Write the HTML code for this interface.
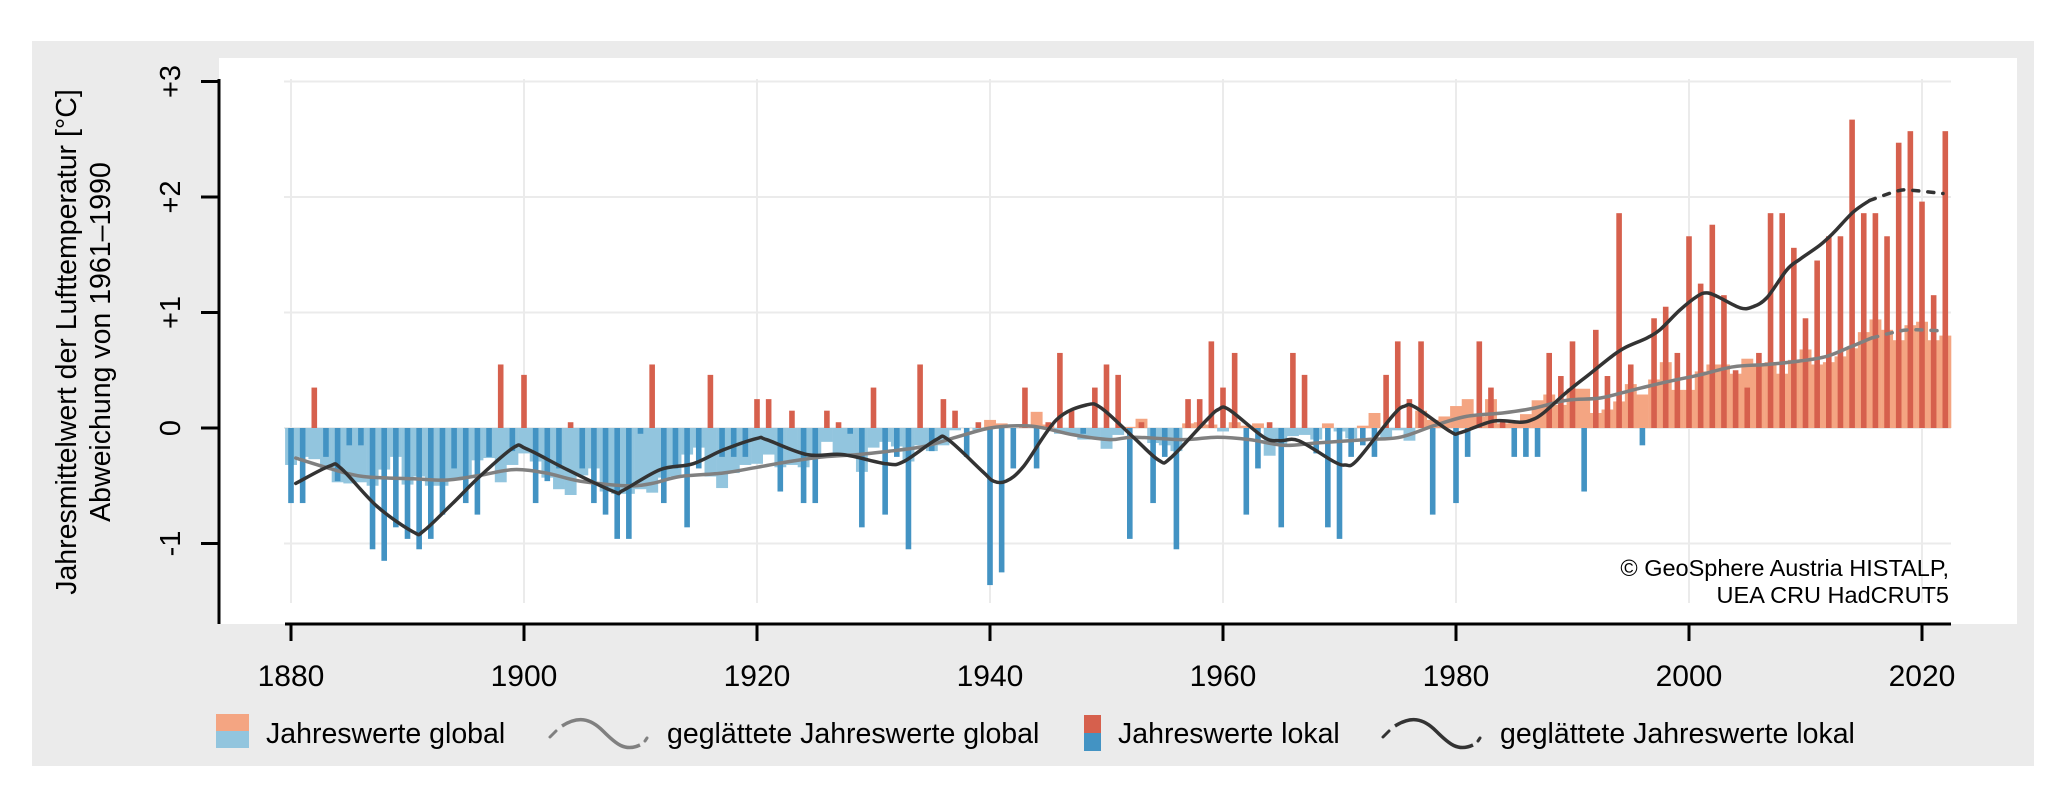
<!DOCTYPE html>
<html><head><meta charset="utf-8">
<style>
html,body{margin:0;padding:0;background:#fff;}
svg{display:block;}
text{font-family:"Liberation Sans",Arial,sans-serif;fill:#000;}
</style></head>
<body>
<svg id="c" width="2067" height="803" viewBox="0 0 2067 803" xmlns="http://www.w3.org/2000/svg">
<rect x="0" y="0" width="2067" height="803" fill="#ffffff"/>
<rect x="32" y="41" width="2002" height="725" fill="#ebebeb"/>
<rect x="219" y="58" width="1798" height="566" fill="#ffffff"/>
<g id="grid" stroke="#ebebeb" stroke-width="2"></g>
<g id="bars"></g>
<g id="curves" fill="none" stroke-width="3.5" stroke-linejoin="round" stroke-linecap="round"></g>
<g id="axes" stroke="#000" stroke-width="3"></g>
<g id="labels"></g>
<text x="1949" y="576" font-size="23.5" text-anchor="end">© GeoSphere Austria HISTALP,</text>
<text x="1949" y="603" font-size="23.5" text-anchor="end">UEA CRU HadCRUT5</text>
<text transform="translate(76,342) rotate(-90)" font-size="28.5" text-anchor="middle">Jahresmittelwert der Lufttemperatur [°C]</text>
<text transform="translate(110,342) rotate(-90)" font-size="28.5" text-anchor="middle">Abweichung von 1961–1990</text>
<!-- legend -->
<rect x="216" y="714" width="33" height="17" fill="#f4a582"/>
<rect x="216" y="731" width="33" height="17" fill="#92c5de"/>
<text x="266" y="743" font-size="28.5">Jahreswerte global</text>
<path d="M550,737 L556,731" stroke="#808080" stroke-width="3" fill="none" stroke-linecap="round"/>
<path d="M562,726 C578,716 590,718 603,731 C616,744 625,752 640,745" stroke="#808080" stroke-width="3.5" fill="none"/>
<path d="M645,741 L647,738" stroke="#808080" stroke-width="3" fill="none" stroke-linecap="round"/>
<text x="667" y="743" font-size="28.5">geglättete Jahreswerte global</text>
<rect x="1084" y="715" width="17" height="18" fill="#d6604d"/>
<rect x="1084" y="733" width="17" height="18" fill="#4393c3"/>
<text x="1118" y="743" font-size="28.5">Jahreswerte lokal</text>
<path d="M1383,737 L1389,731" stroke="#333" stroke-width="3" fill="none" stroke-linecap="round"/>
<path d="M1395,726 C1411,716 1423,718 1436,731 C1449,744 1458,752 1473,745" stroke="#333" stroke-width="3.5" fill="none"/>
<path d="M1478,741 L1480,738" stroke="#333" stroke-width="3" fill="none" stroke-linecap="round"/>
<text x="1500" y="743" font-size="28.5">geglättete Jahreswerte lokal</text>
</svg>
<script>
(function(){
var NS="http://www.w3.org/2000/svg";
function X(y){return 291+(y-1880)*11.65;}
function Y(v){return 428-v*115.5;}
function el(p,t,a,txt){var e=document.createElementNS(NS,t);for(var k in a)e.setAttribute(k,a[k]);if(txt!==undefined)e.textContent=txt;document.getElementById(p).appendChild(e);return e;}
for(var yr=1880;yr<=2020;yr+=20)el("grid","line",{x1:X(yr),x2:X(yr),y1:79,y2:603});
for(var v=-1;v<=3;v++)el("grid","line",{x1:284,x2:1951,y1:Y(v),y2:Y(v)});
var loc=[-0.65,-0.65,0.35,-0.25,-0.46,-0.15,-0.15,-1.05,-1.15,-0.86,-0.96,-1.05,-0.96,-0.75,-0.35,-0.65,-0.75,-0.25,0.55,-0.2,
0.46,-0.65,-0.46,-0.35,0.05,-0.35,-0.65,-0.75,-0.96,-0.96,-0.05,0.55,-0.65,-0.35,-0.86,-0.35,0.46,-0.25,-0.25,-0.25,
0.25,0.25,-0.55,0.15,-0.65,-0.65,0.15,0.05,-0.05,-0.86,0.35,-0.75,-0.25,-1.05,0.55,-0.2,0.25,0.15,-0.25,0.05,
-1.36,-1.25,-0.35,0.35,-0.35,0.05,0.65,0.15,-0.05,0.35,0.55,0.46,-0.96,0.05,-0.65,-0.25,-1.05,0.25,0.25,0.75,
0.35,0.65,-0.75,-0.35,0.05,-0.86,0.65,0.46,-0.22,-0.86,-0.96,-0.25,-0.15,-0.25,0.46,0.75,0.25,0.75,-0.75,0,
-0.65,-0.25,0.75,0.35,0.05,-0.25,-0.25,-0.25,0.65,0.45,0.75,-0.55,0.85,0.45,1.86,0.55,-0.15,0.95,1.05,0.65,
1.66,1.25,1.76,1.15,0.5,0.35,0.65,1.86,1.86,1.56,0.95,1.45,1.66,1.66,2.67,1.86,1.86,1.66,2.47,2.57,1.96,1.15,2.57];
var glob=[-0.32,-0.25,-0.27,-0.35,-0.47,-0.48,-0.47,-0.50,-0.36,-0.25,-0.49,-0.42,-0.50,-0.50,-0.44,-0.43,-0.28,-0.26,-0.47,-0.32,
-0.22,-0.29,-0.43,-0.53,-0.58,-0.41,-0.35,-0.55,-0.57,-0.57,-0.53,-0.56,-0.43,-0.42,-0.23,-0.17,-0.42,-0.52,-0.39,-0.32,
-0.31,-0.23,-0.34,-0.32,-0.34,-0.24,-0.12,-0.22,-0.22,-0.38,-0.17,-0.12,-0.16,-0.29,-0.15,-0.20,-0.15,-0.02,0.00,-0.02,
0.07,0.04,0.00,0.02,0.14,0.03,-0.05,-0.06,-0.10,-0.10,-0.18,-0.06,0.01,0.08,-0.13,-0.15,-0.20,0.04,0.05,0.03,
-0.03,0.05,0.02,0.04,-0.24,-0.15,-0.07,-0.06,-0.10,0.04,-0.03,-0.09,0.02,0.13,-0.09,-0.02,-0.11,0.15,0.07,0.10,
0.19,0.25,0.10,0.25,0.04,0.05,0.12,0.24,0.29,0.20,0.34,0.34,0.13,0.16,0.23,0.38,0.29,0.42,0.57,0.33,
0.33,0.49,0.55,0.55,0.47,0.60,0.55,0.57,0.47,0.59,0.68,0.55,0.57,0.62,0.69,0.83,0.94,0.85,0.76,0.89,0.92,0.76,0.80];
for(var i=0;i<glob.length;i++){var g=glob[i],x=X(1880+i)-5.9;
 el("bars","rect",{x:x,width:11.9,y:Math.min(Y(g),428),height:Math.abs(g*115.5),fill:g>=0?"#f4a582":"#92c5de"});}
for(var i=0;i<loc.length;i++){var l=loc[i],x=X(1880+i)-2.8;
 el("bars","rect",{x:x,width:5.6,y:Math.min(Y(l),428),height:Math.abs(l*115.5),fill:l>=0?"#d6604d":"#4393c3"});}
function path(pts){var d="";var P=pts.map(function(p){return [X(p[0]),Y(p[1])];});
 for(var i=0;i<P.length;i++){if(i==0){d+="M"+P[0][0].toFixed(1)+","+P[0][1].toFixed(1);continue;}
  var p0=P[Math.max(i-2,0)],p1=P[i-1],p2=P[i],p3=P[Math.min(i+1,P.length-1)];
  var c1=[p1[0]+(p2[0]-p0[0])/6,p1[1]+(p2[1]-p0[1])/6],c2=[p2[0]-(p3[0]-p1[0])/6,p2[1]-(p3[1]-p1[1])/6];
  d+="C"+c1[0].toFixed(1)+","+c1[1].toFixed(1)+" "+c2[0].toFixed(1)+","+c2[1].toFixed(1)+" "+p2[0].toFixed(1)+","+p2[1].toFixed(1);}
 return d;}
var gs=[[1880.4,-0.26],[1883.3,-0.35],[1886.2,-0.42],[1890.5,-0.44],[1893.4,-0.45],[1896.2,-0.41],[1899.1,-0.36],[1901.9,-0.39],[1904.8,-0.46],[1908.8,-0.50],[1911,-0.48],[1913.4,-0.42],[1917.1,-0.39],[1920,-0.34],[1922.8,-0.29],[1925.7,-0.25],[1928.6,-0.23],[1931.4,-0.2],[1934.3,-0.16],[1937.1,-0.08],[1940,0.0],[1942.9,0.02],[1944.6,0.0],[1947.2,-0.06],[1950.3,-0.10],[1952.3,-0.08],[1956.6,-0.10],[1959.5,-0.08],[1962.3,-0.10],[1965.2,-0.15],[1968,-0.13],[1972.3,-0.10],[1975.2,-0.08],[1978.1,0.02],[1980.9,0.10],[1984,0.13],[1986.6,0.17],[1989.5,0.24],[1992.4,0.26],[1995.2,0.33],[1998.1,0.40],[2000.9,0.46],[2003.8,0.53],[2006.7,0.55],[2009.5,0.58],[2011.8,0.62],[2013.8,0.70],[2015.7,0.78]];
var gd=[[2015.7,0.78],[2018.1,0.84],[2019.5,0.85],[2021.8,0.84]];
var ls=[[1880.4,-0.48],[1883.3,-0.33],[1884.3,-0.35],[1887.4,-0.68],[1890.5,-0.90],[1891.4,-0.89],[1893.9,-0.65],[1896.2,-0.42],[1899.1,-0.17],[1900.2,-0.18],[1903.7,-0.36],[1907.7,-0.55],[1908.5,-0.54],[1911.7,-0.36],[1914.5,-0.31],[1917.1,-0.19],[1920,-0.09],[1920.8,-0.10],[1924.3,-0.23],[1927.4,-0.23],[1931.1,-0.31],[1932.6,-0.29],[1935.4,-0.10],[1936.4,-0.10],[1939.4,-0.38],[1940.3,-0.46],[1941.4,-0.46],[1942.9,-0.33],[1945.7,0.07],[1948.3,0.2],[1949.6,0.17],[1952.3,-0.08],[1954.5,-0.28],[1955.5,-0.26],[1958.6,0.07],[1959.6,0.16],[1960.5,0.16],[1963.5,-0.08],[1964.9,-0.11],[1966.5,-0.11],[1969.5,-0.29],[1970.5,-0.32],[1971.5,-0.28],[1974.6,0.11],[1975.6,0.19],[1976.5,0.18],[1979.5,-0.03],[1980.4,-0.04],[1983.2,0.06],[1985.5,0.05],[1986.5,0.07],[1987.5,0.13],[1989.5,0.31],[1991.5,0.47],[1993.5,0.63],[1994.6,0.70],[1996.4,0.78],[1997.5,0.85],[1999.2,1.02],[2000.7,1.14],[2001.5,1.17],[2002.4,1.14],[2004.4,1.04],[2005.5,1.05],[2006.7,1.13],[2008.4,1.37],[2009.5,1.46],[2011.2,1.58],[2012.4,1.69],[2014.1,1.87],[2015.5,1.97]];
var ld=[[2015.5,1.97],[2017.8,2.05],[2018.9,2.06],[2021.8,2.03]];
el("curves","path",{d:path(gs),stroke:"#808080"});
el("curves","path",{d:path(gd),stroke:"#808080","stroke-dasharray":"6,9"});
el("curves","path",{d:path(ls),stroke:"#333333"});
el("curves","path",{d:path(ld),stroke:"#333333","stroke-dasharray":"6,9"});
el("axes","line",{x1:219,x2:219,y1:79,y2:624});
el("axes","line",{x1:285,x2:1951,y1:624,y2:624});
var lab=["-1","0","+1","+2","+3"];
for(var v=-1;v<=3;v++){el("axes","line",{x1:201,x2:219,y1:Y(v),y2:Y(v)});
 el("labels","text",{transform:"translate(180,"+Y(v)+") rotate(-90)","font-size":"29","text-anchor":"middle"},lab[v+1]);}
for(var yr=1880;yr<=2020;yr+=20){el("axes","line",{x1:X(yr),x2:X(yr),y1:624,y2:641});
 el("labels","text",{x:X(yr),y:686,"font-size":"30","text-anchor":"middle"},String(yr));}
})();
</script>
</body></html>
